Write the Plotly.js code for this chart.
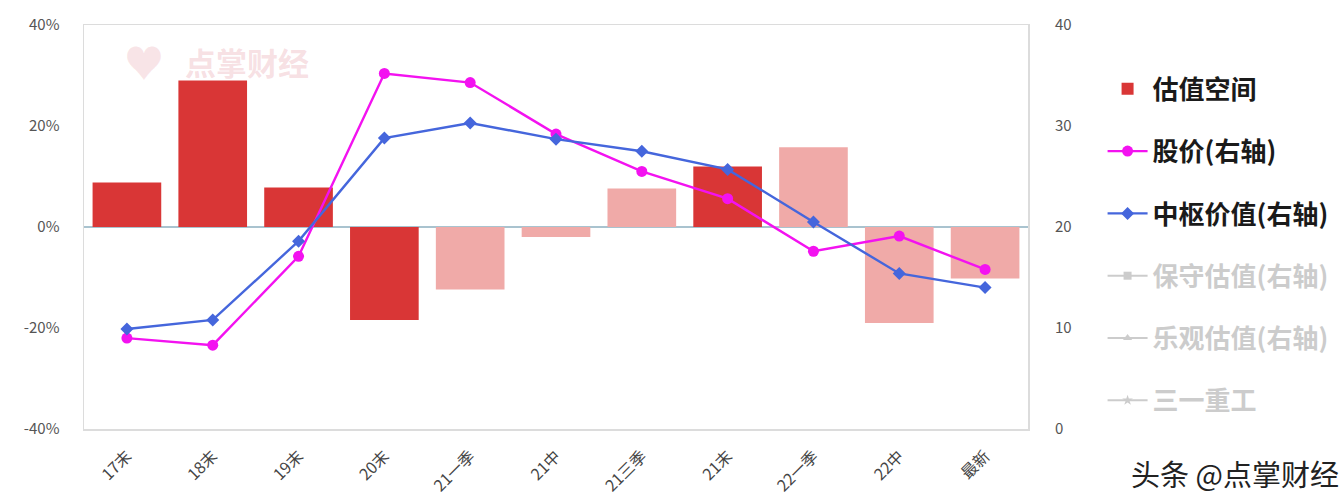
<!DOCTYPE html>
<html>
<head>
<meta charset="utf-8">
<script src="https://cdn.plot.ly/plotly-3.0.1.min.js"></script>
<style>html,body{margin:0;padding:0;background:#fff;}#chart{width:1341px;height:500px;}</style>
</head>
<body>
<div id="chart"></div>
<script>
// ---- data ----
const categories = ['17末','18末','19末','20末','21一季','21中','21三季','21末','22一季','22中','最新'];
const valuationSpace = [0.088, 0.29, 0.078, -0.184, -0.124, -0.02, 0.076, 0.12, 0.158, -0.19, -0.102];
const barIsDark = [true, true, true, true, false, false, false, true, false, false, false];
const stockPrice = [9.0, 8.3, 17.1, 35.2, 34.3, 29.2, 25.5, 22.8, 17.6, 19.1, 15.8];
const centralValue = [9.9, 10.8, 18.6, 28.8, 30.3, 28.7, 27.5, 25.7, 20.5, 15.4, 14.0];
const leftTicks = [-0.4, -0.2, 0, 0.2, 0.4];
const leftTickText = ['-40%', '-20%', '0%', '20%', '40%'];
const rightTicks = [0, 10, 20, 30, 40];
const hiddenNames = ['保守估值(右轴)', '乐观估值(右轴)', '三一重工'];
const hiddenSymbols = ['square', 'triangle-up', 'star'];

const DARK = '#d93636';
const LIGHT = '#f0aaa8';
const FONT = '"Noto Sans CJK SC", "Noto Sans", sans-serif';

const traces = [
  {
    type: 'bar', x: categories, y: valuationSpace, name: '估值空间',
    marker: { color: barIsDark.map(d => d ? DARK : LIGHT), line: { width: 0 } },
    legendgroup: 'a', yaxis: 'y'
  },
  {
    type: 'scatter', mode: 'lines+markers', x: categories, y: stockPrice, name: '股价(右轴)',
    line: { color: '#f312f0', width: 2.4 }, marker: { symbol: 'circle', size: 11, color: '#f312f0' },
    legendgroup: 'b', yaxis: 'y2'
  },
  {
    type: 'scatter', mode: 'lines+markers', x: categories, y: centralValue, name: '中枢价值(右轴)',
    line: { color: '#4566dc', width: 2.4 }, marker: { symbol: 'diamond', size: 10, color: '#4566dc' },
    legendgroup: 'c', yaxis: 'y2'
  }
];
hiddenNames.forEach((n, i) => {
  traces.push({
    type: 'scatter', mode: 'lines+markers', x: [null], y: [null],
    name: '<span style="color:#9a9a9a">' + n + '</span>',
    line: { color: '#9a9a9a', width: 2 }, marker: { symbol: hiddenSymbols[i], size: 8, color: '#9a9a9a' },
    legendgroup: 'h' + i, yaxis: 'y2', visible: 'legendonly'
  });
});

const layout = {
  width: 1341, height: 500,
  margin: { l: 84, r: 313, t: 25, b: 71, autoexpand: false },
  paper_bgcolor: '#fff', plot_bgcolor: '#fff',
  font: { family: FONT, color: '#555', size: 15 },
  bargap: 0.2,
  showlegend: true,
  legend: {
    x: 1.079, xanchor: 'left', y: 0.9, yanchor: 'top',
    font: { family: FONT, size: 26, color: '#1a1a1a', weight: 'bold' },
    tracegroupgap: 25.5, itemwidth: 40, bgcolor: 'rgba(0,0,0,0)'
  },
  xaxis: {
    type: 'category', range: [-0.5, categories.length - 0.5], tickangle: -45, showgrid: false,
    showline: true, linecolor: '#dcdcdc', linewidth: 1.5, mirror: true,
    ticks: '', tickfont: { size: 16, color: '#444' }, ticklabelstandoff: 10
  },
  yaxis: {
    range: [-0.4, 0.4], tickvals: leftTicks, ticktext: leftTickText,
    showgrid: false, zeroline: true, zerolinecolor: '#a9c3cf', zerolinewidth: 1.5,
    showline: true, linecolor: '#dcdcdc', linewidth: 1.5, mirror: true,
    ticks: '', ticklabelstandoff: 20, tickfont: { size: 15, color: '#555' }
  },
  yaxis2: {
    overlaying: 'y', side: 'right', range: [0, 40], tickvals: rightTicks,
    showgrid: false, zeroline: false, showline: false,
    ticks: '', ticklabelstandoff: 26, tickfont: { size: 15, color: '#555' }
  },
  annotations: [
    { xref: 'paper', yref: 'paper', x: 0.105, y: 0.91, xanchor: 'left', yanchor: 'middle', showarrow: false,
      text: '点掌财经', font: { family: FONT, size: 31, color: 'rgba(230,150,160,0.3)', weight: 'bold' } },
    { xref: 'paper', yref: 'paper', x: 0.04, y: 0.91, xanchor: 'left', yanchor: 'middle', showarrow: false,
      text: '♥', font: { family: FONT, size: 40, color: 'rgba(230,150,160,0.25)' } },
    { xref: 'paper', yref: 'paper', x: 1.332, y: -0.166, xanchor: 'right', yanchor: 'bottom', showarrow: false,
      text: '头条 @点掌财经', font: { family: FONT, size: 29, color: '#222' } }
  ]
};

Plotly.newPlot('chart', traces, layout, { displayModeBar: false, staticPlot: true });
</script>
</body>
</html>
